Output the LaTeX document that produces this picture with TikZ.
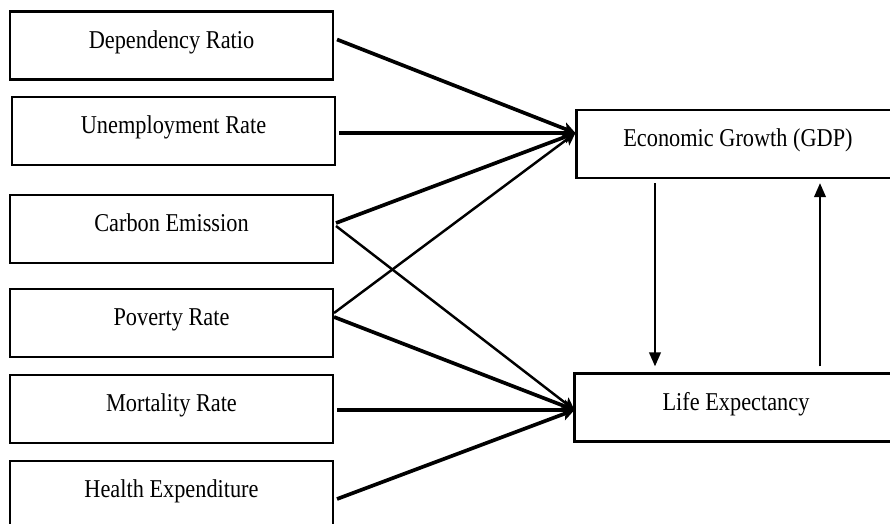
\documentclass[tikz,border=0pt]{standalone}
\usepackage{fontspec}
\setmainfont{Liberation Serif}
\usetikzlibrary{arrows.meta}
\newcommand{\stretched}[1]{\scalebox{1}[1.15]{#1}}

\begin{document}
\begin{tikzpicture}[x=0.02cm,y=-0.02cm,
    thickarrow/.style={line width=2.1pt,-{Stealth[length=7pt,width=7pt,inset=1.5pt]}},
    thinarrow/.style={line width=1.4pt,-{Stealth[length=7pt,width=7pt,inset=1.5pt]}},
    looparrow/.style={line width=1.4pt,-{Triangle[length=8pt,width=6.5pt]}}]
            \useasboundingbox (0,0) rectangle (890,524);
            \clip (0,0) rectangle (890,524);

            \begin{scope}[every node/.style={rectangle,draw,line width=1.2pt,minimum width=6.46cm,minimum height=1.36cm,font=\fontsize{12.7}{15}\selectfont,text height=9.5pt,text depth=6.3pt}]
                \node (dep) at (171.5,45.5) {\stretched{Dependency Ratio}};
                \node (unemp) at (173.5,131) {\stretched{Unemployment Rate}};
                \node (carbon) at (171.5,229) {\stretched{Carbon Emission}};
                \node (poverty) at (171.5,323) {\stretched{Poverty Rate}};
                \node (mortality) at (171.5,409) {\stretched{Mortality Rate}};
                \node (health) at (171.5,495) {\stretched{Health Expenditure}};
                \node (gdp) at (738,144) {\stretched{Economic Growth (GDP)}};
                \node (life) at (736,407.5) {\stretched{Life Expectancy}};
            \end{scope}

            \begin{scope}
                \path [thickarrow] ([shift={(3,-6)}]dep.east) edge ([shift={(0,-11)}]gdp.west);
                \path [thickarrow] ([shift={(3,2)}]unemp.east) edge ([shift={(0,-11)}]gdp.west);
                \path [thickarrow] ([shift={(2,-6)}]carbon.east) edge ([shift={(0,-11)}]gdp.west);
                \path [thinarrow] ([shift={(2,-3)}]carbon.east) edge ([shift={(1,2.5)}]life.west);
                \path [thinarrow] ([shift={(0,-10)}]poverty.east) edge ([shift={(0,-11)}]gdp.west);
                \path [thickarrow] ([shift={(0,-6)}]poverty.east) edge ([shift={(1,2.5)}]life.west);
                \path [thickarrow] ([shift={(3,1)}]mortality.east) edge ([shift={(1,2.5)}]life.west);
                \path [thickarrow] ([shift={(3,4)}]health.east) edge ([shift={(1,2.5)}]life.west);
                \path [looparrow] ([shift={(-83,4)}]gdp.south) edge ([shift={(-81,-6)}]life.north);
                \path [looparrow] ([shift={(84,-6)}]life.north) edge ([shift={(82,4)}]gdp.south);
            \end{scope}
            \end{tikzpicture}
\end{document}
